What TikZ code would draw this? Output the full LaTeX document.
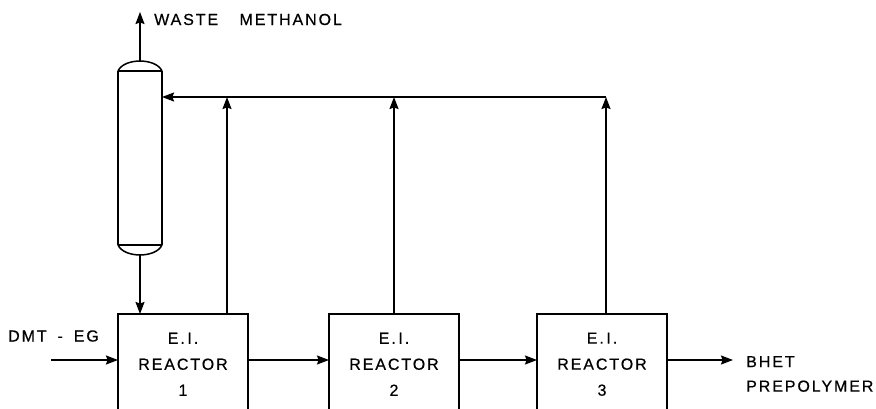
\documentclass[tikz,border=0pt]{standalone}
\usepackage{fontspec}
\setmainfont[LetterSpace=12,FakeBold=0.6]{Liberation Sans}
\usetikzlibrary{arrows.meta,calc}
\tikzset{
  x=1pt,y=-1pt,
  lbl/.style={font=\fontsize{16}{24.5}\selectfont,inner sep=0pt,align=left,text=black},
  reactor/.style={minimum width=130pt,minimum height=95pt,inner sep=0pt,outer sep=0pt,font=\fontsize{16}{26}\selectfont,align=center,text=black},
  flow/.style={line width=1.5pt,-{Stealth[length=12pt,width=9pt,inset=1.5pt]}},
  plain/.style={line width=1.5pt},
  columnbox/.style={minimum width=44pt,minimum height=194pt,inner sep=0pt,outer sep=0pt},
}
\begin{document}
\begin{tikzpicture}
\useasboundingbox (0,0) rectangle (876,409);
% Reactors
\node[reactor] (r1) at (183,361.5) {\rule{0pt}{16.5pt}E.\,I.\\REACTOR\\1};
\node[reactor] (r2) at (394,361.5) {\rule{0pt}{16.5pt}E.\,I.\\REACTOR\\2};
\node[reactor] (r3) at (602,361.5) {\rule{0pt}{16.5pt}E.\,I.\\REACTOR\\3};
\foreach \r in {r1,r2,r3}
  \draw[plain] (\r.south west) -- (\r.north west) -- (\r.north east) -- (\r.south east);
% Column
\node[columnbox] (col) at (140,158) {};
\coordinate (capT) at ($(col.north west)+(0,10)$);
\coordinate (capTe) at ($(col.north east)+(0,10)$);
\coordinate (capB) at ($(col.south west)+(0,-10)$);
\coordinate (capBe) at ($(col.south east)+(0,-10)$);
\draw[plain] (capT) -- (capB) (capTe) -- (capBe) (capT) -- (capTe) (capB) -- (capBe);
\draw[plain] (capT) .. controls ($(col.north west)+(6,-3.3)$) and ($(col.north east)+(-6,-3.3)$) .. (capTe);
\draw[plain] (capB) .. controls ($(col.south west)+(6,3.3)$) and ($(col.south east)+(-6,3.3)$) .. (capBe);
% Free ends
\coordinate (topend) at (col.north |- 0,12);
\coordinate (feed) at (51,360);
\coordinate (prod) at (733,360);
\coordinate (j1) at (227,97);
\coordinate (j2) at (394,97);
\coordinate (j3) at (606,97);
% Connectors
\draw[flow] (col.north) -- (topend);
\draw[flow] (col.south) -- (col.south |- r1.north);
\draw[flow] (feed) -- (r1.west |- feed);
\draw[flow] (r1.east |- feed) -- (r2.west |- feed);
\draw[flow] (r2.east |- feed) -- (r3.west |- feed);
\draw[flow] (r3.east |- feed) -- (prod);
\draw[flow] (j1 |- r1.north) -- (j1);
\draw[flow] (j2 |- r2.north) -- (j2);
\draw[flow] (j3 |- r3.north) -- (j3);
\draw[flow] (j3) -- (col.east |- j3);
% Labels
\node[lbl,anchor=west] (wm) at (154,19.5) {WASTE\hspace{15pt} METHANOL\hspace{0pt}};
\node[lbl,anchor=west] (feedlbl) at (8,336) {DMT\hspace{4.5pt} - \hspace{4.5pt}EG};
\node[lbl,anchor=west] (prodlbl) at (746,374) {BHET\\PREPOLYMER};
\end{tikzpicture}
\end{document}
